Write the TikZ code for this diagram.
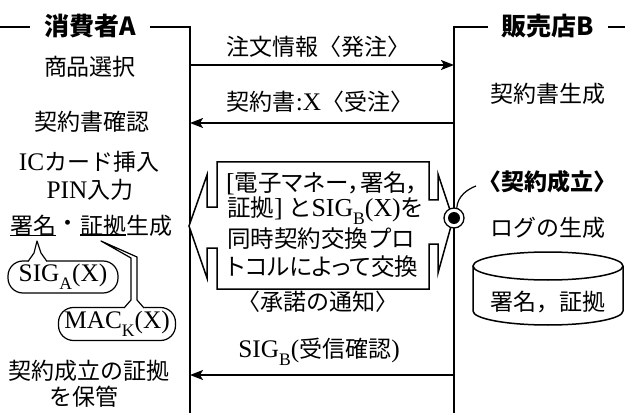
\documentclass[tikz,border=0pt]{standalone}
\usepackage{fontspec}
\setmainfont{Noto Sans CJK JP}
\newfontfamily\lat[Scale=1.1]{Liberation Serif}
\newfontfamily\jpp[RawFeature=+palt]{Noto Sans CJK JP}
\usetikzlibrary{arrows.meta}
% lowered subscript in the Latin face
\newcommand\mysub[1]{\raisebox{-0.3em}{\fontsize{16}{16}\selectfont #1}}

\begin{document}
\begin{tikzpicture}[x=1pt,y=-1pt,
  lifeline/.style={line width=1.5pt},
  msg/.style={line width=1.6pt,-{Stealth[length=13pt,width=10pt,inset=3pt]}},
  txt/.style={font=\fontsize{23}{27}\selectfont,inner sep=0pt},
  boxt/.style={font=\fontsize{23.5}{27}\selectfont,inner sep=0pt,anchor=west},
  head/.style={font=\fontsize{25}{29}\selectfont\bfseries,inner ysep=0pt,inner xsep=14pt},
  uline/.style={line width=1.6pt},
  balloon/.style={draw,line width=1.2pt,rounded corners=15pt,fill=white,inner sep=0pt,
    font=\fontsize{23}{27}\selectfont},
  pointer/.style={line width=1.2pt,line join=round},
  outline/.style={line width=1.5pt,line join=miter},
  db/.style={line width=1.5pt}]
\useasboundingbox (0,0) rectangle (625,420);

% ---- lifelines with their headers ----
\coordinate (A0) at (190,27);  \coordinate (Aend) at (190,413);
\coordinate (B0) at (454,27);  \coordinate (Bend) at (454,413);
\node[head] (hA) at (90,26)  {消費者A};
\node[head] (hB) at (548,26) {販売店B};
\draw[lifeline] (0,27) -- (hA.west |- A0);
\draw[lifeline] (hA.east |- A0) -- (A0) -- (Aend);
\draw[lifeline] (hB.west |- B0) -- (B0) -- (Bend);
\draw[lifeline] (hB.east |- B0) -- (625,27);

% ---- messages ----
\coordinate (a1) at (190,65);  \coordinate (b1) at (454,65);
\coordinate (a2) at (190,123); \coordinate (b2) at (454,123);
\coordinate (a3) at (190,375); \coordinate (b3) at (454,375);
\node[txt] (m1) at (318,47)  {注文情報〈発注〉};
\node[txt] (m2) at (320,102) {契約書{\lat :X}〈受注〉};
\node[txt] (m3) at (319,352) {{\lat SIG\mysub{B}(}受信確認{\lat )}};
\draw[msg] (a1) -- (b1);
\draw[msg] (b2) -- (a2);
\draw[msg] (b3) -- (a3);

% ---- consumer side ----
\node[txt] (l1) at (90,67)  {商品選択};
\node[txt] (l2) at (92,122) {契約書確認};
\node[txt] (l3) at (89,162) {{\lat IC}カード挿入};
\node[txt] (l4) at (90,190) {{\lat PIN}入力};
\node[txt,anchor=west] (sg)  at (10,226)   {署名};
\node[txt,anchor=west] (dt)  at (sg.east)  {・};
\node[txt,anchor=west] (ev)  at (dt.east)  {証拠};
\node[txt,anchor=west] (gen) at (ev.east)  {生成};
\draw[uline] ([yshift=1.5pt]sg.south west) -- ([yshift=1.5pt]sg.south east);
\draw[uline] ([yshift=1.5pt]ev.south west) -- ([yshift=1.5pt]ev.south east);

\node[balloon,minimum width=110pt,minimum height=32pt] (sigA) at (63,277)
  {{\lat SIG\mysub{A}(X)}};
\node[balloon,minimum width=117pt,minimum height=33pt] (mac) at (117,324)
  {{\lat MAC\mysub{K}(X)}};

% callout pointers
\fill[white] (28,259) -- (37,241) -- (47,259) -- (47,264) -- (28,264) -- cycle;
\draw[pointer] (28,261.5) -- (34,253) -- (37,241) -- (41,253) -- (47,261.5);
\fill[white] (124,305) -- (131,300) -- (137,300) -- (144,305) -- (144,311) -- (124,311) -- cycle;
\draw[pointer] (124,308) -- (131,300) -- (131,258) -- (101,241) -- (137,257) -- (137,300) -- (144,308);

\node[txt] (l6) at (89,371) {契約成立の証拠};
\node[txt] (l7) at (84,397) {を保管};

% ---- shop side ----
\node[txt] (r1) at (548,94) {契約書生成};
\node[txt,font=\fontsize{23}{27}\selectfont\bfseries] (ok) at (547,182) {〈契約成立〉};
\node[txt] (lg) at (548,228) {ログの生成};

% log store
\draw[db] (473,266) -- (473,311) arc[start angle=180,end angle=360,x radius=75pt,y radius=14pt] -- (623,266);
\draw[db] (548,266) ellipse [x radius=75pt,y radius=14pt];
\node[txt] (st) at (548,302) {署名，証拠};

% ---- simultaneous exchange (double arrow box) ----
\draw[outline,fill=white]
  (217,162) -- (429,162) -- (429,200) -- (438,200) -- (438,174) -- (453,219)
  -- (438,273) -- (438,244) -- (429,244) -- (429,289) -- (217,289) -- (217,248)
  -- (207,248) -- (207,278) -- (189,226) -- (207,175) -- (207,207) -- (217,207) -- cycle;
\node[boxt] (t1) at (226,183) {{\lat [}{\jpp 電子マネー，署名，}};
\node[boxt] (t2) at (227,211) {証拠{\lat ]} と{\lat SIG\mysub{B}(X)}を};
\node[boxt] (t3) at (227,239) {同時契約交換プロ};
\node[boxt] (t4) at (227,267) {{\jpp トコルによって交換}};
\node[txt] (ack) at (318,302) {〈承諾の通知〉};

% agreement point on the shop lifeline
\node[circle,draw,line width=1.3pt,fill=white,minimum size=20pt,inner sep=0pt] (ring) at (454,218) {};
\node[circle,fill=black,minimum size=12pt,inner sep=0pt] (dotc) at (ring.center) {};
\coordinate (okp) at (476,186);
\draw[line width=1.2pt] (ring.75) .. controls +(1,-12) and +(-8,3) .. (okp);
\end{tikzpicture}
\end{document}
